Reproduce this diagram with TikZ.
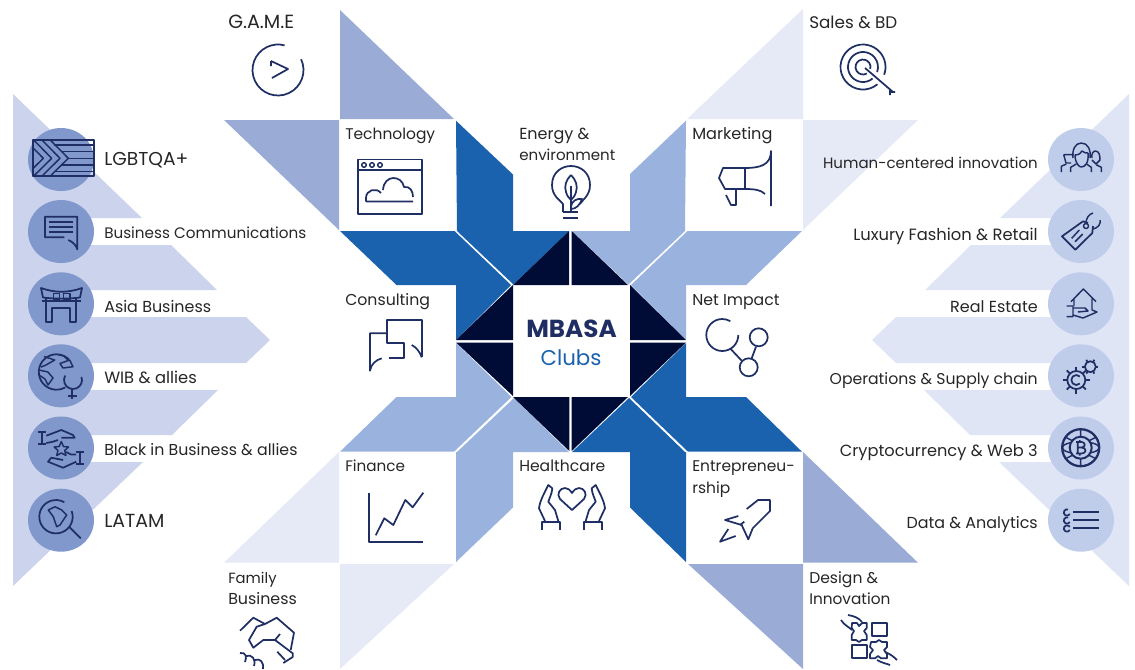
\documentclass[tikz,border=0pt]{standalone}
\usepackage{fontspec}
\setmainfont{Poppins}
\definecolor{chevL}{HTML}{CCD3EC}
\definecolor{circL}{HTML}{8098CC}
\definecolor{chevR}{HTML}{E0E5F6}
\definecolor{circR}{HTML}{C0CDEA}
\definecolor{midT}{HTML}{9AABD6}
\definecolor{paleT}{HTML}{E6EAF7}
\definecolor{deepB}{HTML}{1A62AE}
\definecolor{softB}{HTML}{9AB3DE}
\definecolor{navyT}{HTML}{000C36}
\definecolor{inkI}{HTML}{202F63}
\definecolor{txtC}{HTML}{262626}
\tikzset{
  icon/.style={draw=inkI,line width=1.3pt,line join=round,fill=none},
  thinicon/.style={draw=inkI,line width=1.1pt,line join=round,fill=none},
  lbl/.style={font=\fontsize{11.6}{14}\selectfont,text=txtC,inner sep=0pt,anchor=base west},
  lblr/.style={lbl,anchor=base east},
  sz/.style={font=\fontsize{#1}{14}\selectfont},
}
\newcommand\IArc[5]{\draw[icon] ([shift={(#1,#2)}]#4:#3) arc[start angle=#4,end angle=#5,radius=#3];}
\newcommand\TArc[5]{\draw[thinicon] ([shift={(#1,#2)}]#4:#3) arc[start angle=#4,end angle=#5,radius=#3];}
\begin{document}
\begin{tikzpicture}[x=0.75pt,y=-0.75pt]
\useasboundingbox (0,0) rectangle (1135,669);
\clip (0,0) rectangle (1135,669);
% chevrons
\fill[chevL] (13,94) -- (142,218) -- (61,218) -- (61,245) -- (171,245) -- (217,290) -- (61,290) -- (61,317) -- (246,317) -- (270,340) -- (246,363) -- (61,363) -- (61,390) -- (218,390) -- (172,435) -- (61,435) -- (61,462) -- (143,462) -- (13,586) -- cycle;
\fill[chevR] (1129,94) -- (1000,218) -- (1081,218) -- (1081,245) -- (971,245) -- (925,290) -- (1081,290) -- (1081,317) -- (896,317) -- (872,340) -- (896,363) -- (1081,363) -- (1081,390) -- (924,390) -- (970,435) -- (1081,435) -- (1081,462) -- (999,462) -- (1129,586) -- cycle;
% circles
\foreach \yy in {159.5,231.5,303.8,375.8,448,520.2}{
  \fill[circL] (61,\yy) ellipse [x radius=33,y radius=31.5];
  \fill[circR] (1081,\yy) ellipse [x radius=33,y radius=31.5];
}
% triangles
\fill[midT] (340,10) -- (340,119) -- (454,119) -- cycle;
\fill[midT] (224,120) -- (339,120) -- (339,230) -- cycle;
\fill[paleT] (803,9) -- (803,119) -- (687,119) -- cycle;
\fill[paleT] (803,120) -- (918,120) -- (803,230) -- cycle;
\fill[paleT] (339,452) -- (339,562.7) -- (224,562.7) -- cycle;
\fill[paleT] (340,564) -- (454,564) -- (340,669) -- cycle;
\fill[midT] (803,452) -- (803,562.7) -- (918,562.7) -- cycle;
\fill[midT] (688,564) -- (803,564) -- (803,669) -- cycle;
% blue shapes
\fill[deepB] (456,120.7) -- (513,174.5) -- (513,231) -- (569,231) -- (513.5,284.5) -- (457,231) -- cycle;
\fill[deepB] (340,231) -- (454.5,231) -- (511,285) -- (456,340) -- (456,285) -- (396.5,285) -- cycle;
\fill[softB] (686,120.7) -- (630,174) -- (630,231) -- (572,231) -- (628.5,284.5) -- (685,231) -- cycle;
\fill[softB] (802,231) -- (746,285) -- (686,285) -- (686,340) -- (631,285) -- (687.5,231) -- cycle;
\fill[softB] (456,343) -- (511.5,397) -- (454,451.7) -- (340,451.7) -- (396.5,397) -- (456,397) -- cycle;
\fill[softB] (456,452) -- (456,562) -- (513,507.5) -- (513,452) -- (569,452) -- (514,398) -- (457,452) -- cycle;
\fill[deepB] (686,343) -- (631,397) -- (688,451.7) -- (802,451.7) -- (746,397) -- (686,397) -- cycle;
\fill[deepB] (686,452) -- (686,562) -- (630,507.5) -- (630,452) -- (572,452) -- (629,398) -- (685,452) -- cycle;
% navy triangles
\fill[navyT] (513,285) -- (569,231) -- (569,285) -- cycle;
\fill[navyT] (571.7,231) -- (628,285) -- (571.7,285) -- cycle;
\fill[navyT] (456,340) -- (513,285) -- (513,340) -- cycle;
\fill[navyT] (456,342.5) -- (513,342.5) -- (513,396) -- cycle;
\fill[navyT] (630,285) -- (686,340) -- (630,340) -- cycle;
\fill[navyT] (630,342.5) -- (686,342.5) -- (630,396) -- cycle;
\fill[navyT] (513,397) -- (569.3,397) -- (569.3,451) -- cycle;
\fill[navyT] (571.7,397) -- (628,397) -- (571.7,451) -- cycle;
% centre
\node[inner sep=0pt,anchor=base,font=\fontsize{18.5}{20}\selectfont\bfseries,text=inkI] (mbasa) at (571.5,337.7) {MBASA};
\node[inner sep=0pt,anchor=base,font=\fontsize{16}{20}\selectfont,text=deepB] (clubs) at (571,365.7) {Clubs};
% labels
\node[lbl,sz=14.3] (game) at (228,28) {G.A.M.E};
\node[lbl,sz=12.6] (sales) at (809,28) {Sales \& BD};
\node[lbl] (tech) at (345,139) {Technology};
\node[lbl,sz=12] (energyA) at (519,139) {Energy \&};
\node[lbl,sz=11.3] (energyB) at (519,160) {environment};
\node[lbl,sz=12.1] (mkt) at (692,139) {Marketing};
\node[lbl,sz=11.8] (cons) at (345,305) {Consulting};
\node[lbl,sz=11.8] (net) at (692,305) {Net Impact};
\node[lbl,sz=11.4] (fin) at (345,471) {Finance};
\node[lbl,sz=11.7] (health) at (519,471) {Healthcare};
\node[lbl] (entA) at (692,471) {Entrepreneu-};
\node[lbl] (entB) at (692,493) {rship};
\node[lbl,sz=11.1] (famA) at (228,583) {Family};
\node[lbl,sz=11.9] (famB) at (228,604) {Business};
\node[lbl,sz=11.7] (desA) at (809,583) {Design \&};
\node[lbl,sz=11.5] (desB) at (809,604) {Innovation};
\node[lbl,sz=14] (l1) at (104,165) {LGBTQA+};
\node[lbl,sz=11.4] (l2) at (104,238) {Business Communications};
\node[lbl,sz=11.95] (l3) at (104,312) {Asia Business};
\node[lbl,sz=12.25] (l4) at (104,383) {WIB \& allies};
\node[lbl,sz=11.85] (l5) at (104,455) {Black in Business \& allies};
\node[lbl,sz=14.2] (l6) at (104,527) {LATAM};
\node[lblr,sz=11.25] (r1) at (1038,168) {Human-centered innovation};
\node[lblr,sz=12.25] (r2) at (1038,240) {Luxury Fashion \& Retail};
\node[lblr,sz=12] (r3) at (1038,312) {Real Estate};
\node[lblr,sz=11.75] (r4) at (1038,384) {Operations \& Supply chain};
\node[lblr,sz=12.15] (r5) at (1038,456) {Cryptocurrency \& Web 3};
\node[lblr,sz=11.95] (r6) at (1038,528) {Data \& Analytics};
% --- icons ---
% GAME
\IArc{278}{70}{25.5}{-25}{285}
\draw[icon] (271,61) -- (288,69) -- (272,78) (271,61) -- (271,66);
% Technology
\draw[icon] (358,159.5) rectangle (422,214) (358,170) -- (422,170);
\foreach \xx in {364,372,380}{\draw[thinicon] (\xx,165) circle (2.3);}
\draw[icon] (366,201.5) -- (413,201.5) (366,201.5) -- (366,198) .. controls (366,190) and (376,187) .. (381,193) (383,190) .. controls (384,174) and (402,175) .. (404,187) .. controls (410,186) and (413,191) .. (413,197);
% Energy
\draw[icon] (563,212) -- (563,204) .. controls (560,200) and (552,196) .. (552,185) .. controls (552,172) and (562,166) .. (571,166) .. controls (581,166) and (590,173) .. (590,185) .. controls (590,196) and (582,200) .. (580,204);
\draw[icon] (563,212) -- (578,212) (563,218) -- (578,218) (571,212) -- (571,186);
\draw[icon] (571,175) .. controls (566,180) and (564,186) .. (566,192) .. controls (567,196) and (569,198) .. (571,200) .. controls (573,198) and (575,196) .. (576,192) .. controls (578,186) and (576,180) .. (571,175);
\draw[icon] (571,209) .. controls (576,209) and (580,205) .. (582,199) .. controls (577,198) and (572,201) .. (571,206);
% Marketing
\draw[icon] (745,168) -- (723,168) -- (719,178) -- (725,189) -- (745,189) .. controls (755,189) and (761,190) .. (765,194);
\draw[icon] (745,168) .. controls (760,168) and (771,165) .. (771,151) -- (771,206);
\draw[icon] (745,168) -- (745,189) (736,189) -- (736,205) -- (731,205) -- (726,195);
% Sales
\IArc{863}{67}{22.5}{50}{380}
\IArc{863}{67}{15}{50}{380}
\IArc{863}{67}{7.5}{60}{375}
\draw[icon] (865,68) -- (893,92) (890,95) -- (890,90) (890,92) -- (895,92);
% Consulting
\draw[icon] (421.7,357.3) -- (421.7,320) -- (386.7,320) -- (386.7,342.7) -- (404.3,342.7) -- (404.3,357.7) -- (389.3,357.7);
\draw[icon] (421.7,357.3) .. controls (420,352) and (416,347) .. (411.7,345);
\draw[icon] (386.7,333.3) -- (370,333.3) -- (370,370.7) .. controls (371,364) and (376,360) .. (381.7,358.3);
% Net Impact
\IArc{722.3}{335}{16}{0}{300}
\draw[icon] (758.7,337.3) circle (9) (748.7,367.3) circle (9);
\draw[icon] (730.7,349) -- (741.7,360.7) (756,346.7) -- (751.7,358.3);
% Finance
\draw[icon] (369,492.7) -- (369,542.3) -- (423.3,542.3);
\draw[icon] (375.7,535.3) -- (384.3,518.3) -- (393.3,525) -- (405.3,500) -- (412.7,507.3) -- (423.3,492.7);
% Healthcare
\foreach \ss/\oo in {1/0,-1/1144}{
\begin{scope}[xscale=\ss,xshift=\oo*0.75pt*\ss]
\draw[icon] (542.3,530) -- (542.3,521.7) -- (560,521.7) -- (560,530);
\draw[icon] (545,521) -- (539,508.3) .. controls (540,500) and (545,492) .. (548.3,485) -- (552.3,488.3) .. controls (552,493) and (550,497) .. (548.3,501.7) -- (555,510) -- (558.3,521);
\end{scope}}
\draw[icon] (572,510) -- (560,499) .. controls (556,494) and (560,488) .. (565,488) .. controls (568,488) and (570,490) .. (572,493) .. controls (574,490) and (576,488) .. (579,488) .. controls (584,488) and (588,494) .. (584,499) -- cycle;
% Entrepreneurship
\draw[icon] (746.7,509) -- (758,500) -- (770,500) -- (770,511) -- (752.7,528.3) -- (748.3,539.3) -- (741.7,525) -- (725,520) -- (738.3,516);
\draw[icon] (728.3,529) -- (720,541.7) -- (735.7,536) (740,525) -- (744.3,521.7);
% Family Business
\draw[icon] (240,630.7) -- (253.3,617.7) -- (265,624) -- (276.7,617.7) -- (294,632.7) -- (290.7,650);
\draw[icon] (265,624) -- (256.7,626.7) -- (249,640) -- (253.3,647.7) -- (263.3,640) -- (275,640) -- (280,634);
\draw[icon] (275,640) -- (292.7,653.3) -- (292.7,657) -- (283.3,663) (277.3,651.7) -- (285,660);
\draw[icon] (240,653) .. controls (246,652) and (247,657) .. (245,662) (246,656) .. controls (252,654) and (256,659) .. (254,666) (255,660) .. controls (260,658) and (264,662) .. (263,669);
% Design & Innovation
\draw[icon] (871.7,622.7) rectangle (886.7,636) (851.7,645) rectangle (866.7,658.3);
\draw[icon] (852,623) -- (857,623) -- (859,626) -- (862,623) -- (866.7,623) -- (866.7,628) -- (864,631) -- (866.7,635) -- (866.7,640) -- (862,640) -- (859,642) -- (856,640) -- (851.7,640) -- (851.7,635) -- (854,631) -- (851.7,628) -- cycle;
\draw[icon] (871,642) -- (876,642) -- (879,640) -- (882,642) -- (887,642) -- (887,647) -- (884,650) -- (887,654) -- (887,658.3) -- (881,658.3) -- (878,656) -- (875,658.3) -- (870,658.3) -- (870,654) -- (873,650) -- (870,647) -- cycle;
\draw[icon] (841,620) .. controls (844,625) and (849,627) .. (852,630);
\draw[icon] (848,615) .. controls (854,616) and (859,618) .. (862,622);
\draw[icon] (897,660) .. controls (893,656) and (890,654) .. (885,652);
\draw[icon] (877,660) .. controls (882,663) and (888,664) .. (890,665);
% LGBTQA flag
\begin{scope}
\clip (32.7,140) rectangle (94,176);
\foreach \aa in {68.3,60,51.7,43.3}{\draw[thinicon] (\aa-20,138) -- (\aa,158.3) -- (\aa-20,178);}
\foreach \yy/\xx in {145/54,151.7/61,158.3/68,165/61,171.7/54}{\draw[thinicon] (\xx,\yy) -- (94,\yy);}
\end{scope}
\draw[icon] (32.7,140) rectangle (94,176);
% Business communications
\draw[icon] (64.3,237.3) -- (45,237.3) -- (45,216.7) -- (77.3,216.7) -- (77.3,249.3) .. controls (76,245) and (73,242) .. (68.3,240);
\draw[icon] (49.3,221.7) -- (73.3,221.7) (49.3,226.7) -- (73.3,226.7) (49.3,231.7) -- (73.3,231.7);
% Asia
\draw[icon] (41,288) .. controls (55,293) and (68,293) .. (82,288) -- (80,297.5) .. controls (68,299) and (55,299) .. (43,297.5) -- cycle;
\draw[icon] (41.7,300.7) -- (81,300.7);
\draw[icon] (45.7,297) -- (45.7,321.7) -- (51.7,321.7) -- (51.7,308.3) -- (70,308.3) -- (70,321.7) -- (76,321.7) -- (76,297);
\draw[thinicon] (53.3,293.5) rectangle (59.3,300) (63.3,293.5) rectangle (70,300);
% WIB
\IArc{56.5}{372}{17.7}{60}{315}
\draw[thinicon] (44,356.5) -- (54.7,360) -- (46,365) -- (41,367);
\draw[thinicon] (39,370) -- (48,372) -- (53,378) -- (48,385) -- (45,379) -- (39,375);
\draw[thinicon] (60,363.5) -- (69.7,360) -- (73,366.7) -- (63,368) -- cycle;
\draw[thinicon] (58,354.5) -- (64,356) -- (68,360);
\IArc{73}{380}{9}{-20}{210}
\draw[icon] (72.3,389.3) -- (72.3,399) (68,395.7) -- (77.3,395.7);
% Black in business
\draw[icon] (38,432.3) -- (46.3,432.3) (42,432.3) -- (42,444.3) (38,444.3) -- (46.3,444.3);
\draw[icon] (46.3,435.7) -- (61.3,430) -- (73,435) -- (74.7,437.7) -- (61.3,437.7);
\draw[icon] (46.3,443) -- (53,441.7) -- (58,440);
\draw[icon] (76.3,452.3) -- (84,452.3) (79.7,452.3) -- (79.7,464.3) (76.3,464.3) -- (84,464.3);
\draw[icon] (76.3,461.7) -- (63,467.7) -- (48,461.7) -- (51.3,457.7) -- (63,460);
\draw[icon] (76,454.5) -- (71,454.5) -- (66,452);
\draw[thinicon] (61.3,441.5) -- (63.5,446.5) -- (68.5,447) -- (64.7,450.5) -- (66,455.5) -- (61.3,453) -- (56.7,455.5) -- (58,450.5) -- (54.2,447) -- (59.2,446.5) -- cycle;
% LATAM
\IArc{56}{516.7}{16.7}{-20}{300}
\draw[icon] (69,526.7) -- (80.7,538.3);
\draw[thinicon] (48.3,510) -- (55,506.7) -- (61.7,510) -- (66.7,515) -- (60,525) -- (56.7,526.7) -- (53.3,516.7) -- cycle;
% Human-centered
\draw[thinicon] (1073,158) .. controls (1072,150) and (1075,143) .. (1081.3,143) .. controls (1088,143) and (1091,150) .. (1090,158);
\draw[thinicon] (1075,155) .. controls (1075,163) and (1079,167) .. (1081.3,167) .. controls (1085,167) and (1089,163) .. (1088,153);
\draw[thinicon] (1075,155) .. controls (1079,155) and (1081,153) .. (1082,151) .. controls (1084,153) and (1086,153) .. (1088,153);
\draw[thinicon] (1063.7,154.7) -- (1074,154.7) (1063.7,154.7) -- (1066,163) -- (1071,163);
\draw[thinicon] (1092,158) .. controls (1091,153) and (1094,151) .. (1095.3,151) .. controls (1099,151) and (1100,155) .. (1100,160) -- (1096,164) -- (1092,160);
\draw[thinicon] (1061.3,172) -- (1061.3,166.3) -- (1066.3,164);
\draw[thinicon] (1070.7,172) -- (1070.7,167.3) -- (1076.3,164) (1086.5,164) -- (1091.3,167.3) -- (1091.3,172);
\draw[thinicon] (1101.3,172) -- (1101.3,167.3) -- (1096.3,164.7);
% Tag
\draw[icon] (1083,221.3) -- (1062,236.3) -- (1075.3,249.7) -- (1092.3,233) -- (1093,226);
\draw[icon] (1083,221.3) -- (1088,223);
\draw[thinicon] (1086,226) circle (2.5);
\draw[thinicon] (1071.7,238.3) -- (1079.3,230) (1075,241.7) -- (1082.7,234);
\draw[thinicon] (1086,223.5) .. controls (1086,218) and (1089,214) .. (1093,213) (1093,229) .. controls (1098,228) and (1101,224) .. (1100,220);
% House
\draw[thinicon] (1071,301.7) -- (1083.3,289) -- (1096,301.7) (1074,298.5) -- (1074,306) (1092,298.5) -- (1092,310);
\draw[thinicon] (1066.7,306) -- (1073,306) -- (1073,316.7) -- (1066.7,316.7) (1073,308) -- (1085,308) -- (1088,311) -- (1078,312);
\draw[thinicon] (1073,315) -- (1083,318) -- (1097,312) -- (1092,310);
% Gears
\foreach \aa in {0,45,...,315}{\draw[icon] ([shift={(1076.3,380)}]\aa:9) -- ([shift={(1076.3,380)}]\aa:13.5);}
\draw[icon] (1076.3,380) circle (9);
\IArc{1076.3}{380}{5}{45}{315}
\foreach \aa in {0,60,...,300}{\draw[icon] ([shift={(1090.3,366.7)}]\aa:5.5) -- ([shift={(1090.3,366.7)}]\aa:8);}
\draw[icon] (1090.3,366.7) circle (5.5);
% Crypto
\draw[line width=1.7pt,draw=inkI] (1080.7,447.7) circle (18.5);
\draw[thinicon] (1080.7,447.7) ellipse [x radius=18.5,y radius=6] (1066,437.5) -- (1073,441) (1095.5,437.5) -- (1088.5,441) (1066,458.5) -- (1073,455) (1095.5,458.5) -- (1088.5,455) (1080.7,429.5) -- (1080.7,437) (1080.7,458.5) -- (1080.7,466);
\fill[circR] (1080.7,447.7) circle (10.5);
\draw[line width=1.5pt,draw=inkI] (1080.7,447.7) circle (11);
\draw[icon] (1077.7,442) -- (1077.7,453.5) (1077.7,442) -- (1081.7,442) .. controls (1085.7,442) and (1085.7,447.5) .. (1081.7,447.5) -- (1077.7,447.5) (1081.7,447.5) .. controls (1086.7,447.5) and (1086.7,453.5) .. (1081.7,453.5) -- (1076.2,453.5) (1079.7,440) -- (1079.7,442) (1079.7,453.5) -- (1079.7,455.5) (1076.2,442) -- (1077.7,442);
% Data
\draw[icon] (1073.3,511.7) -- (1099,511.7) (1073.3,520) -- (1099,520) (1073.3,528.3) -- (1099,528.3);
\IArc{1067}{512.5}{3.2}{30}{290}
\IArc{1067}{520.5}{3.2}{30}{290}
\IArc{1067}{528.5}{3.2}{30}{330}
\end{tikzpicture}
\end{document}
